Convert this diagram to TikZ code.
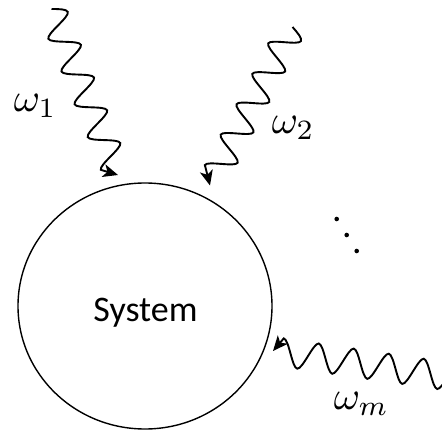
\documentclass[tikz,border=0pt]{standalone}
\usepackage{fontspec}
\newfontfamily\sysfont{Carlito}
\usetikzlibrary{shapes.geometric,arrows.meta,decorations}

\pgfdeclaredecoration{wavy}{initial}{
  \state{initial}[width=+.25\pgfdecorationsegmentlength, next state=down]{
    \pgfpathmoveto{\pgfpointorigin}
    \pgfpathcurveto
      {\pgfqpoint{.08\pgfdecorationsegmentlength}{.5\pgfdecorationsegmentamplitude}}
      {\pgfqpoint{.16\pgfdecorationsegmentlength}{\pgfdecorationsegmentamplitude}}
      {\pgfqpoint{.25\pgfdecorationsegmentlength}{\pgfdecorationsegmentamplitude}}
  }
  \state{down}[switch if less than=+.6\pgfdecorationsegmentlength to final,
               width=+.5\pgfdecorationsegmentlength, next state=up]{
    \pgfpathcurveto
      {\pgfqpoint{.15\pgfdecorationsegmentlength}{\pgfdecorationsegmentamplitude}}
      {\pgfqpoint{.35\pgfdecorationsegmentlength}{-\pgfdecorationsegmentamplitude}}
      {\pgfqpoint{.5\pgfdecorationsegmentlength}{-\pgfdecorationsegmentamplitude}}
  }
  \state{up}[switch if less than=+.6\pgfdecorationsegmentlength to final,
             width=+.5\pgfdecorationsegmentlength, next state=down]{
    \pgfpathcurveto
      {\pgfqpoint{.15\pgfdecorationsegmentlength}{-\pgfdecorationsegmentamplitude}}
      {\pgfqpoint{.35\pgfdecorationsegmentlength}{\pgfdecorationsegmentamplitude}}
      {\pgfqpoint{.5\pgfdecorationsegmentlength}{\pgfdecorationsegmentamplitude}}
  }
  \state{final}{
    \pgfpathlineto{\pgfpointdecoratedpathlast}
  }
}

\tikzset{
  photon/.style={line width=1.9pt, decorate,
    decoration={wavy, amplitude=14pt, segment length=#1},
    -{Stealth[length=15pt,width=13pt,inset=4pt]}},
  syscircle/.style={draw, line width=1.4pt, ellipse, inner sep=0pt,
    minimum width=254pt, minimum height=246pt},
  wlabel/.style={anchor=base west, inner sep=0pt, scale=4},
  ddot/.style={fill, circle, inner sep=0pt, minimum size=4.6pt}
}

\begin{document}
\begin{tikzpicture}[x=1pt,y=1pt]
\useasboundingbox (0,0) rectangle (442,432);
\clip (0,0) rectangle (442,432);

\node[syscircle] (sys) at (145,126) {};
\node[anchor=base, inner sep=0pt, font=\sysfont\fontsize{36}{40}\selectfont] (systxt) at (145.5,111) {System};

\coordinate (w1s) at (51.5,423);
\coordinate (w1e) at (118,257);
\coordinate (w2s) at (292.5,405);
\coordinate (w2e) at (210,246.5);
\coordinate (wms) at (483,50.5);
\coordinate (wme) at (273,81);

\draw[photon=35.3pt] (w1s) -- (w1e);
\draw[photon=34.3pt] (w2s) -- (w2e);
\draw[photon=35.37pt] (wms) -- (wme);

\node[wlabel] (l1) at (13,320) {$\omega_1$};
\node[wlabel] (l2) at (271,298.7) {$\omega_2$};
\node[wlabel] (lm) at (333,23) {$\omega_m$};

\node[ddot] (d1) at (336.7,213) {};
\node[ddot] (d2) at (346.7,197) {};
\node[ddot] (d3) at (356.7,181) {};
\end{tikzpicture}
\end{document}
